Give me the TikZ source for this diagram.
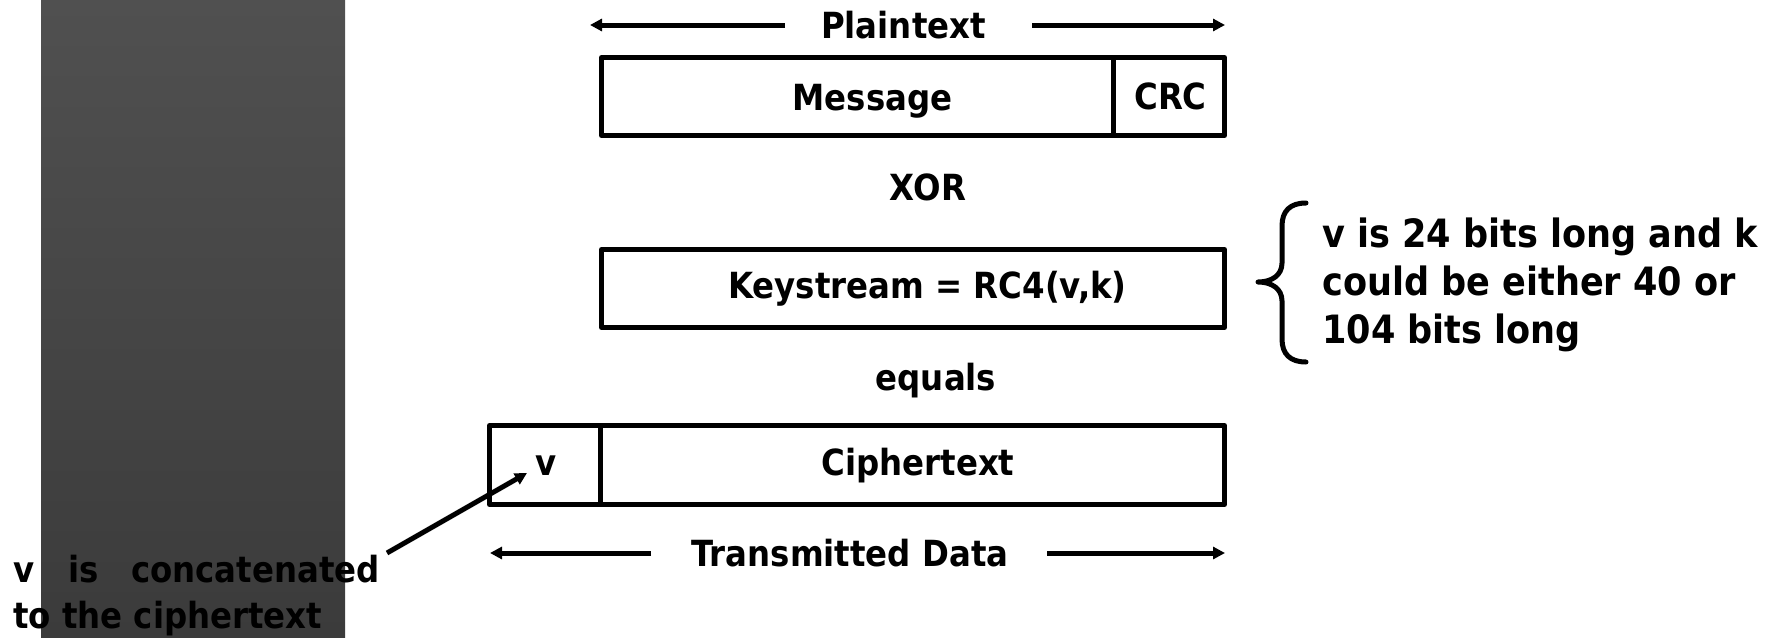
\documentclass[tikz,border=0pt]{standalone}
\usepackage{fontspec}
\setmainfont{DejaVu Sans Condensed}
\usetikzlibrary{arrows.meta}
\definecolor{bartop}{HTML}{505050}
\definecolor{barbot}{HTML}{3B3B3B}
\begin{document}
\begin{tikzpicture}[x=1pt,y=-1pt,
  box/.style={draw=black, line width=5pt, line join=round, inner sep=0pt},
  lbl/.style={inner sep=0pt, anchor=base, font=\fontsize{36}{43}\selectfont\bfseries},
  note/.style={inner sep=0pt, anchor=base west, font=\fontsize{39}{48}\selectfont\bfseries},
  side/.style={inner sep=0pt, anchor=base west, font=\fontsize{36}{46}\selectfont\bfseries},
  arr/.style={line width=5pt, -{Triangle[length=12pt,width=12pt]}}]
\useasboundingbox (0,0) rectangle (1768,637);
% grey bar
\shade[top color=bartop, bottom color=barbot] (41,0) rectangle (345,637);

% Plaintext row
\node[lbl] (pt) at (903.5,38) {Plaintext};
\coordinate (ptL0) at (785,25);
\coordinate (ptL1) at (590,25);
\coordinate (ptR0) at (1032,25);
\coordinate (ptR1) at (1225,25);
\draw[arr] (ptL0) -- (ptL1);
\draw[arr] (ptR0) -- (ptR1);

% Message | CRC
\node[box, minimum width=511.5pt, minimum height=78pt] (msg) at (857.25,96.5) {};
\node[box, minimum width=111.5pt, minimum height=78pt] (crc) at (1168.75,96.5) {};
\node[lbl] (msgt) at (872.5,110) {Message};
\node[lbl] (crct) at (1170.5,109) {CRC};

\node[lbl] (xor) at (928,200) {XOR};

% Keystream
\node[box, minimum width=623pt, minimum height=78pt] (ks) at (913,288.5) {};
\node[lbl] (kst) at (927.5,298) {Keystream = RC4(v,k)};

% brace + note
\draw[line width=5pt, line cap=round, line join=round]
  (1306,203) .. controls (1290,203) and (1282,211) .. (1282,226)
  -- (1282,263) .. controls (1282,275) and (1272,282) .. (1258,282)
  .. controls (1272,282) and (1282,289) .. (1282,301)
  -- (1282,339) .. controls (1282,354) and (1290,362) .. (1306,362);
\node[note] (n1) at (1322,247) {v is 24 bits long and k};
\node[note] (n2) at (1322,295) {could be either 40 or};
\node[note] (n3) at (1322,343) {104 bits long};

\node[lbl] (eq) at (936,390) {equals};

% v | Ciphertext
\node[box, minimum width=111.2pt, minimum height=79pt] (vb) at (545.1,465) {};
\node[box, minimum width=623.8pt, minimum height=79pt] (cb) at (912.6,465) {};
\node[lbl] (vt) at (546,475) {v};
\node[lbl] (ct) at (918,475) {Ciphertext};

% Transmitted data
\node[lbl] (td) at (850,566) {Transmitted Data};
\coordinate (tdL0) at (651,553);
\coordinate (tdL1) at (490,553);
\coordinate (tdR0) at (1047,553);
\coordinate (tdR1) at (1225,553);
\draw[arr] (tdL0) -- (tdL1);
\draw[arr] (tdR0) -- (tdR1);

% side note and pointer
\node[side] (s1) at (13,582) {v\hspace{23pt} is\hspace{21pt} concatenated};
\node[side] (s2) at (13,628) {to the ciphertext};
\coordinate (pS) at (387,553);
\coordinate (pE) at (527,473);
\draw[arr] (pS) -- (pE);
\end{tikzpicture}
\end{document}
